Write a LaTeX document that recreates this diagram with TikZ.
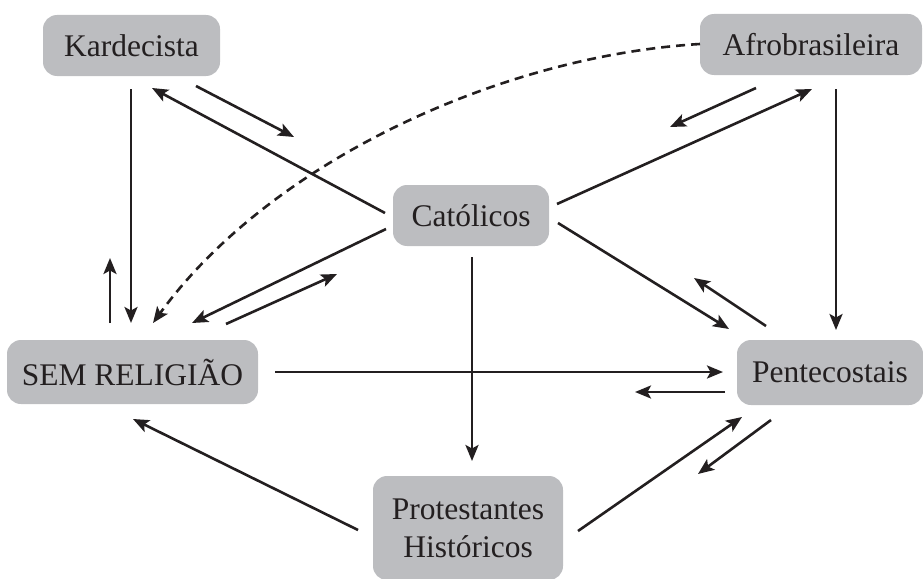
\documentclass[tikz,border=0pt]{standalone}
\usepackage{fontspec}
\setmainfont{Liberation Serif}
\usetikzlibrary{arrows.meta}
\definecolor{boxgray}{RGB}{188,189,192}
\definecolor{ink}{RGB}{35,31,32}
\begin{document}
\begin{tikzpicture}[x=1pt,y=-1pt,
  box/.style={fill=boxgray,rounded corners=14pt,inner sep=0pt,text=ink,
    font=\fontsize{31.5}{38}\selectfont,align=center},
  arr/.style={draw=ink,line width=2.6pt,-{Stealth[length=16pt,width=13pt,inset=3.5pt]}},
  dsh/.style={arr,dash pattern=on 9pt off 6pt}]
\useasboundingbox (0,0) rectangle (923,578);
\begin{scope}
\clip (0,0) rectangle (923,578);
\node[box,minimum width=177pt,minimum height=61pt] (kar) at (131.5,45.5) {Kardecista};
\node[box,minimum width=222pt,minimum height=61pt] (afro) at (811,44.5) {Afrobrasileira};
\node[box,minimum width=156pt,minimum height=61pt] (cat) at (471,215.5) {Católicos};
\node[box,minimum width=251pt,minimum height=64pt] (sem) at (132.5,372) {SEM RELIGIÃO};
\node[box,minimum width=186pt,minimum height=65pt] (pen) at (830,372.5) {Pentecostais};
\node[box,minimum width=190pt,minimum height=104pt] (pro) at (468,528) {Protestantes\\Históricos};
\end{scope}
% named end points
\coordinate (a1) at (131,89);   \coordinate (b1) at (131,323);
\coordinate (a2) at (110,323);  \coordinate (b2) at (110,258);
\coordinate (a3) at (385,213);  \coordinate (b3) at (152,88);
\coordinate (a4) at (196,86);   \coordinate (b4) at (294,137);
\coordinate (a5) at (700,44);   \coordinate (b5) at (153,323);
\coordinate (a6) at (386,229);  \coordinate (b6) at (192,323);
\coordinate (a7) at (226,324);  \coordinate (b7) at (337,274);
\coordinate (a8) at (557,204);  \coordinate (b8) at (812,89);
\coordinate (a9) at (756,88);   \coordinate (b9) at (670,127);
\coordinate (a10) at (836,89);  \coordinate (b10) at (836,330);
\coordinate (a11) at (558,223); \coordinate (b11) at (729,329);
\coordinate (a12) at (766,326); \coordinate (b12) at (694,278);
\coordinate (a13) at (472,257); \coordinate (b13) at (472,461);
\coordinate (a14) at (275,372); \coordinate (b14) at (723,372);
\coordinate (a15) at (725,392); \coordinate (b15) at (635,392);
\coordinate (a16) at (358,530); \coordinate (b16) at (133,419);
\coordinate (a17) at (578,531); \coordinate (b17) at (742,417);
\coordinate (a18) at (771,420); \coordinate (b18) at (698,474);
% connectors
\draw[arr] (a1) -- (b1);
\draw[arr] (a2) -- (b2);
\draw[arr] (a3) -- (b3);
\draw[arr] (a4) -- (b4);
\draw[dsh] (a5) .. controls (500,56) and (270,162) .. (b5);
\draw[arr] (a6) -- (b6);
\draw[arr] (a7) -- (b7);
\draw[arr] (a8) -- (b8);
\draw[arr] (a9) -- (b9);
\draw[arr] (a10) -- (b10);
\draw[arr] (a11) -- (b11);
\draw[arr] (a12) -- (b12);
\draw[arr] (a13) -- (b13);
\draw[arr] (a14) -- (b14);
\draw[arr] (a15) -- (b15);
\draw[arr] (a16) -- (b16);
\draw[arr] (a17) -- (b17);
\draw[arr] (a18) -- (b18);
\end{tikzpicture}
\end{document}
